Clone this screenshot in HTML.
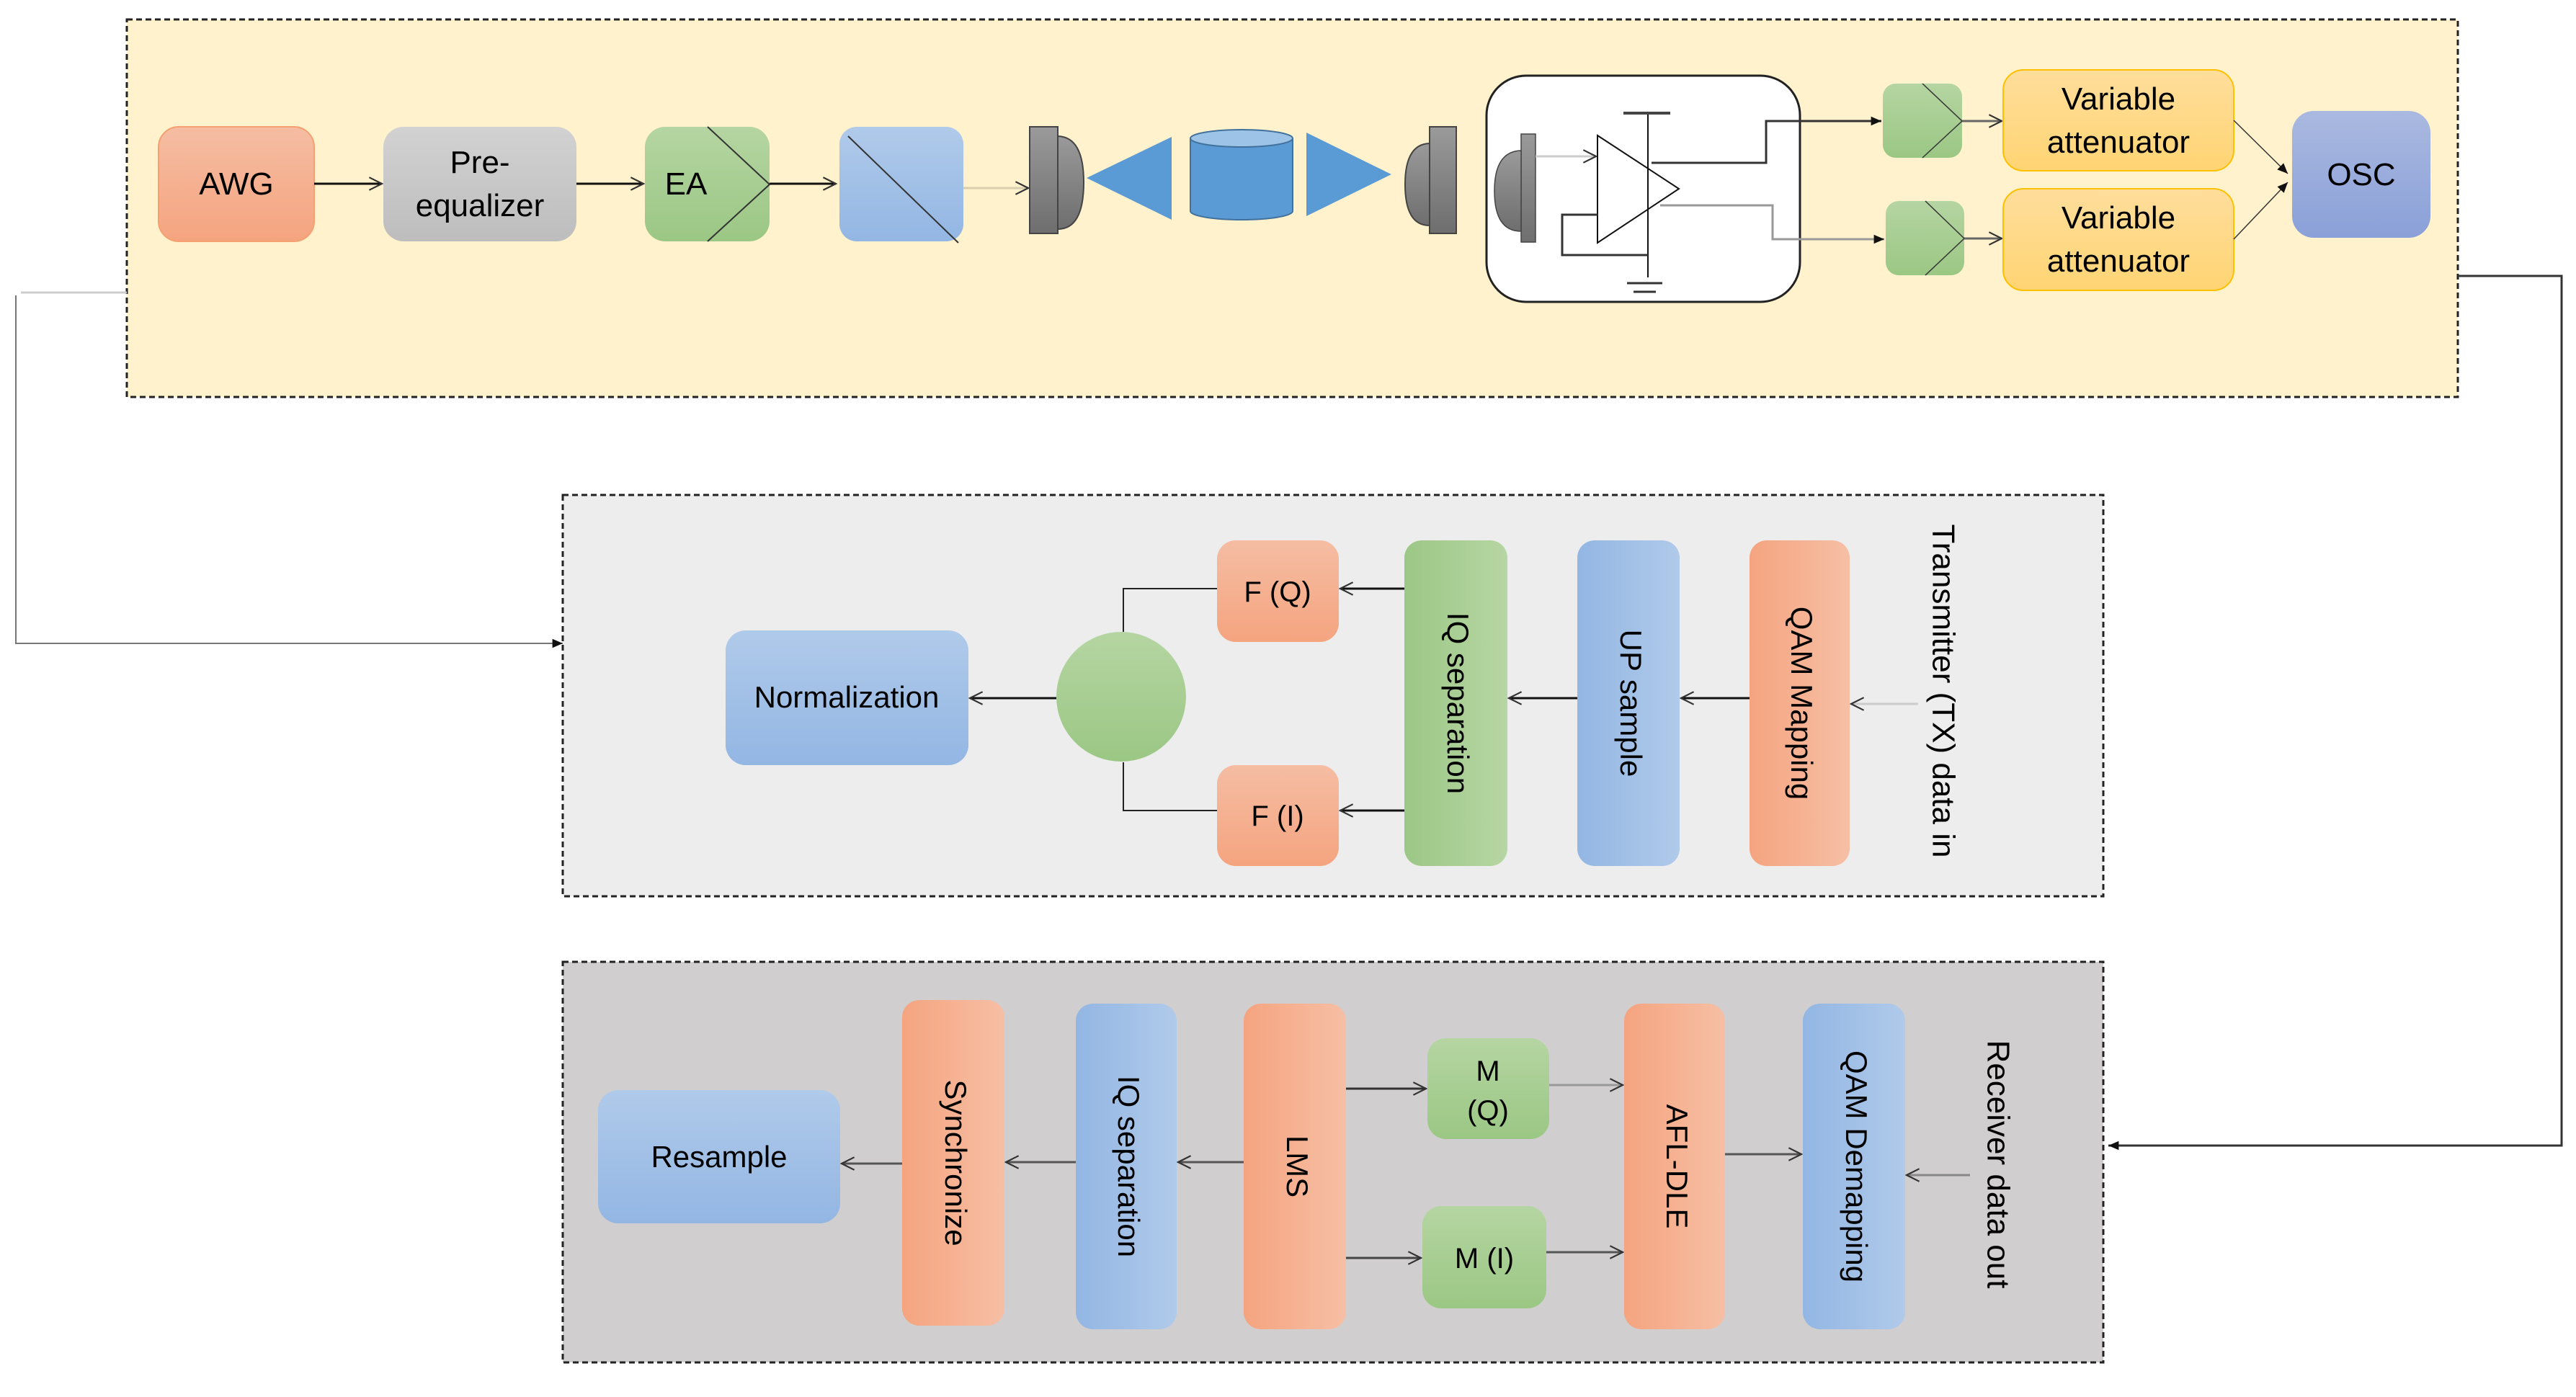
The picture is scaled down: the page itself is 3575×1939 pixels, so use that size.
<!DOCTYPE html>
<html><head><meta charset="utf-8"><style>html,body{margin:0;padding:0;background:#fff}svg{display:block}</style></head><body>
<svg width="3575" height="1939" viewBox="0 0 3575 1939" xmlns="http://www.w3.org/2000/svg" font-family="Liberation Sans, sans-serif">
<defs>
<linearGradient id="gOr" x1="0" y1="0" x2="0" y2="1"><stop offset="0" stop-color="#F5BDA3"/><stop offset="1" stop-color="#F5A47F"/></linearGradient>
<linearGradient id="gOrH" x1="0" y1="0" x2="1" y2="0"><stop offset="0" stop-color="#F5A47F"/><stop offset="1" stop-color="#F6BFA5"/></linearGradient>
<linearGradient id="gGr" x1="0" y1="0" x2="0" y2="1"><stop offset="0" stop-color="#D2D2D2"/><stop offset="1" stop-color="#BDBDBD"/></linearGradient>
<linearGradient id="gGn" x1="0" y1="0" x2="0" y2="1"><stop offset="0" stop-color="#B5D5A2"/><stop offset="1" stop-color="#9BC784"/></linearGradient>
<linearGradient id="gGnH" x1="0" y1="0" x2="1" y2="0"><stop offset="0" stop-color="#9CC786"/><stop offset="1" stop-color="#B6D6A3"/></linearGradient>
<linearGradient id="gBl" x1="0" y1="0" x2="0" y2="1"><stop offset="0" stop-color="#B0CAEA"/><stop offset="1" stop-color="#93B6E3"/></linearGradient>
<linearGradient id="gBlH" x1="0" y1="0" x2="1" y2="0"><stop offset="0" stop-color="#93B6E3"/><stop offset="1" stop-color="#B0CAEA"/></linearGradient>
<linearGradient id="gYe" x1="0" y1="0" x2="0" y2="1"><stop offset="0" stop-color="#FFDE9C"/><stop offset="1" stop-color="#FFD473"/></linearGradient>
<linearGradient id="gOs" x1="0" y1="0" x2="0" y2="1"><stop offset="0" stop-color="#AAB9E0"/><stop offset="1" stop-color="#8AA0D8"/></linearGradient>
<linearGradient id="gPl" x1="0" y1="0" x2="0" y2="1"><stop offset="0" stop-color="#9A9A9A"/><stop offset="1" stop-color="#6E6E6E"/></linearGradient>
<marker id="ar" viewBox="0 0 20 20" refX="18" refY="10" markerWidth="22" markerHeight="22" markerUnits="userSpaceOnUse" orient="auto"><path d="M2,2 L18,10 L2,18" fill="none" stroke="#333" stroke-width="2"/></marker>
<marker id="af" viewBox="0 0 20 20" refX="18" refY="10" markerWidth="18" markerHeight="18" markerUnits="userSpaceOnUse" orient="auto"><path d="M2,3 L18,10 L2,17 Z" fill="#111"/></marker>
</defs>

<!-- panels -->
<rect x="176" y="27" width="3235" height="524" fill="#FFF2CC" stroke="#222" stroke-width="3" stroke-dasharray="8,5"/>
<rect x="781" y="687" width="2138" height="557" fill="#EDEDED" stroke="#222" stroke-width="3" stroke-dasharray="8,5"/>
<rect x="781" y="1335" width="2138" height="556" fill="#D0CECE" stroke="#222" stroke-width="3" stroke-dasharray="8,5"/>

<!-- feedback lines -->
<polyline points="176,406 29,406" fill="none" stroke="#ccc" stroke-width="3"/>
<polyline points="22,410 22,893 781,893" fill="none" stroke="#777" stroke-width="2" marker-end="url(#af)"/>
<polyline points="3411,383 3555,383 3555,1590 2926,1590" fill="none" stroke="#333" stroke-width="3" marker-end="url(#af)"/>

<!-- top row -->
<rect x="220" y="176" width="216" height="159" rx="28" fill="url(#gOr)" stroke="#F4A070" stroke-width="2"/>
<text x="328" y="270" font-size="44" text-anchor="middle">AWG</text>
<rect x="532" y="176" width="268" height="159" rx="28" fill="url(#gGr)"/>
<text x="666" y="240" font-size="44" text-anchor="middle">Pre-</text>
<text x="666" y="300" font-size="44" text-anchor="middle">equalizer</text>
<rect x="895" y="176" width="173" height="159" rx="28" fill="url(#gGn)"/>
<polyline points="982,176 1068,256 982,335" fill="none" stroke="#333" stroke-width="2"/>
<text x="952" y="270" font-size="44" text-anchor="middle">EA</text>
<rect x="1165" y="176" width="172" height="159" rx="24" fill="url(#gBl)"/>
<line x1="1177" y1="189" x2="1330" y2="337" stroke="#333" stroke-width="2"/>
<line x1="436" y1="255" x2="530" y2="255" stroke="#111" stroke-width="3" marker-end="url(#ar)"/>
<line x1="800" y1="255" x2="893" y2="255" stroke="#111" stroke-width="3" marker-end="url(#ar)"/>
<line x1="1068" y1="255" x2="1160" y2="255" stroke="#111" stroke-width="3" marker-end="url(#ar)"/>
<line x1="1337" y1="261" x2="1427" y2="261" stroke="#D8CFAE" stroke-width="3" marker-end="url(#ar)"/>

<rect x="1429" y="176" width="39" height="148" fill="url(#gPl)" stroke="#444" stroke-width="2"/>
<path d="M1468,189 Q1504,190 1504,253 Q1504,318 1468,318 Z" fill="url(#gPl)" stroke="#444" stroke-width="2"/>
<polygon points="1508,247 1626,190 1626,305" fill="#5B9BD5"/>
<path d="M1652,192 L1652,293 A71,12 0 0 0 1794,293 L1794,192" fill="#5B9BD5" stroke="#41719C" stroke-width="2"/>
<ellipse cx="1723" cy="192" rx="71" ry="12" fill="#9DC3E6" stroke="#41719C" stroke-width="2"/>
<polygon points="1813,184 1931,242 1813,300" fill="#5B9BD5"/>
<path d="M1984,199 Q1950,200 1950,256 Q1950,313 1984,313 Z" fill="url(#gPl)" stroke="#444" stroke-width="2"/>
<rect x="1984" y="176" width="37" height="148" fill="url(#gPl)" stroke="#444" stroke-width="2"/>

<!-- receiver module -->
<rect x="2063" y="105" width="435" height="314" rx="55" fill="#fff" stroke="#222" stroke-width="3"/>
<rect x="2111" y="186" width="20" height="150" fill="url(#gPl)" stroke="#444" stroke-width="1.5"/>
<path d="M2111,209 Q2074,210 2074,265 Q2074,321 2111,321 Z" fill="url(#gPl)" stroke="#444" stroke-width="1.5"/>
<line x1="2131" y1="217" x2="2215" y2="217" stroke="#ccc" stroke-width="3" marker-end="url(#ar)"/>
<polygon points="2217,188 2330,262 2217,337" fill="#fff" stroke="#111" stroke-width="2"/>
<line x1="2287" y1="157" x2="2287" y2="385" stroke="#111" stroke-width="2"/>
<line x1="2253" y1="157" x2="2318" y2="157" stroke="#444" stroke-width="4"/>
<line x1="2258" y1="393" x2="2307" y2="393" stroke="#333" stroke-width="3"/>
<line x1="2267" y1="405" x2="2298" y2="405" stroke="#333" stroke-width="3"/>
<polyline points="2292,226 2451,226 2451,168 2611,168" fill="none" stroke="#333" stroke-width="3" marker-end="url(#af)"/>
<polyline points="2304,285 2460,285 2460,332 2615,332" fill="none" stroke="#999" stroke-width="3" marker-end="url(#af)"/>
<polyline points="2217,298 2168,298 2168,354 2287,354" fill="none" stroke="#333" stroke-width="3"/>

<rect x="2613" y="116" width="110" height="103" rx="18" fill="url(#gGn)"/>
<polyline points="2668,116 2723,168 2668,219" fill="none" stroke="#333" stroke-width="1.5"/>
<rect x="2617" y="279" width="109" height="103" rx="18" fill="url(#gGn)"/>
<polyline points="2672,279 2726,331 2672,382" fill="none" stroke="#333" stroke-width="1.5"/>
<line x1="2723" y1="168" x2="2778" y2="168" stroke="#666" stroke-width="3" marker-end="url(#ar)"/>
<line x1="2726" y1="331" x2="2778" y2="331" stroke="#666" stroke-width="3" marker-end="url(#ar)"/>
<rect x="2780" y="97" width="320" height="140" rx="28" fill="url(#gYe)" stroke="#FFC000" stroke-width="2"/>
<text x="2940" y="152" font-size="44" text-anchor="middle">Variable</text>
<text x="2940" y="212" font-size="44" text-anchor="middle">attenuator</text>
<rect x="2780" y="262" width="320" height="141" rx="28" fill="url(#gYe)" stroke="#FFC000" stroke-width="2"/>
<text x="2940" y="317" font-size="44" text-anchor="middle">Variable</text>
<text x="2940" y="377" font-size="44" text-anchor="middle">attenuator</text>
<line x1="3100" y1="167" x2="3175" y2="241" stroke="#333" stroke-width="1.5" marker-end="url(#af)"/>
<line x1="3100" y1="332" x2="3175" y2="253" stroke="#333" stroke-width="1.5" marker-end="url(#af)"/>
<rect x="3181" y="154" width="192" height="176" rx="30" fill="url(#gOs)"/>
<text x="3277" y="257" font-size="44" text-anchor="middle">OSC</text>

<!-- middle: TX -->
<rect x="1007" y="875" width="337" height="187" rx="28" fill="url(#gBl)"/>
<text x="1175" y="982" font-size="42" text-anchor="middle">Normalization</text>
<circle cx="1556" cy="967" r="90" fill="url(#gGn)"/>
<polyline points="1559,877 1559,817 1689,817" fill="none" stroke="#222" stroke-width="2"/>
<polyline points="1559,1058 1559,1125 1689,1125" fill="none" stroke="#222" stroke-width="2"/>
<line x1="1466" y1="969" x2="1346" y2="969" stroke="#111" stroke-width="3" marker-end="url(#ar)"/>
<rect x="1689" y="750" width="169" height="141" rx="26" fill="url(#gOr)"/>
<text x="1773" y="835" font-size="40" text-anchor="middle">F (Q)</text>
<rect x="1689" y="1062" width="169" height="140" rx="26" fill="url(#gOr)"/>
<text x="1773" y="1146" font-size="40" text-anchor="middle">F (I)</text>
<line x1="1949" y1="817" x2="1860" y2="817" stroke="#111" stroke-width="3" marker-end="url(#ar)"/>
<line x1="1949" y1="1125" x2="1860" y2="1125" stroke="#111" stroke-width="3" marker-end="url(#ar)"/>
<rect x="1949" y="750" width="143" height="452" rx="24" fill="url(#gGnH)"/>
<text transform="translate(2020,976) rotate(90)" font-size="42" text-anchor="middle" dominant-baseline="middle">IQ separation</text>
<rect x="2189" y="750" width="142" height="452" rx="24" fill="url(#gBlH)"/>
<text transform="translate(2260,976) rotate(90)" font-size="42" text-anchor="middle" dominant-baseline="middle">UP sample</text>
<rect x="2428" y="750" width="139" height="452" rx="24" fill="url(#gOrH)"/>
<text transform="translate(2497,976) rotate(90)" font-size="42" text-anchor="middle" dominant-baseline="middle">QAM Mapping</text>
<line x1="2189" y1="969" x2="2094" y2="969" stroke="#111" stroke-width="3" marker-end="url(#ar)"/>
<line x1="2428" y1="969" x2="2333" y2="969" stroke="#111" stroke-width="3" marker-end="url(#ar)"/>
<line x1="2662" y1="977" x2="2569" y2="977" stroke="#ccc" stroke-width="3" marker-end="url(#ar)"/>
<text transform="translate(2694,959) rotate(90)" font-size="44" text-anchor="middle" dominant-baseline="middle">Transmitter (TX) data in</text>

<!-- bottom: RX -->
<rect x="830" y="1513" width="336" height="185" rx="28" fill="url(#gBl)"/>
<text x="998" y="1620" font-size="42" text-anchor="middle">Resample</text>
<rect x="1252" y="1388" width="142" height="452" rx="24" fill="url(#gOrH)"/>
<text transform="translate(1323,1614) rotate(90)" font-size="42" text-anchor="middle" dominant-baseline="middle">Synchronize</text>
<rect x="1493" y="1393" width="140" height="452" rx="24" fill="url(#gBlH)"/>
<text transform="translate(1563,1619) rotate(90)" font-size="42" text-anchor="middle" dominant-baseline="middle">IQ separation</text>
<rect x="1726" y="1393" width="142" height="452" rx="24" fill="url(#gOrH)"/>
<text transform="translate(1797,1619) rotate(90)" font-size="42" text-anchor="middle" dominant-baseline="middle">LMS</text>
<rect x="1981" y="1441" width="169" height="140" rx="26" fill="url(#gGn)"/>
<text x="2065" y="1500" font-size="40" text-anchor="middle">M</text>
<text x="2065" y="1555" font-size="40" text-anchor="middle">(Q)</text>
<rect x="1974" y="1674" width="172" height="142" rx="26" fill="url(#gGn)"/>
<text x="2060" y="1760" font-size="40" text-anchor="middle">M (I)</text>
<rect x="2254" y="1393" width="140" height="452" rx="24" fill="url(#gOrH)"/>
<text transform="translate(2324,1619) rotate(90)" font-size="42" text-anchor="middle" dominant-baseline="middle">AFL-DLE</text>
<rect x="2502" y="1393" width="142" height="452" rx="24" fill="url(#gBlH)"/>
<text transform="translate(2573,1619) rotate(90)" font-size="42" text-anchor="middle" dominant-baseline="middle">QAM Demapping</text>
<text transform="translate(2770,1616) rotate(90)" font-size="44" text-anchor="middle" dominant-baseline="middle">Receiver data out</text>
<line x1="1252" y1="1615" x2="1168" y2="1615" stroke="#555" stroke-width="3" marker-end="url(#ar)"/>
<line x1="1493" y1="1613" x2="1396" y2="1613" stroke="#555" stroke-width="3" marker-end="url(#ar)"/>
<line x1="1726" y1="1613" x2="1635" y2="1613" stroke="#555" stroke-width="3" marker-end="url(#ar)"/>
<line x1="1868" y1="1511" x2="1979" y2="1511" stroke="#333" stroke-width="3" marker-end="url(#ar)"/>
<line x1="2150" y1="1506" x2="2252" y2="1506" stroke="#999" stroke-width="3" marker-end="url(#ar)"/>
<line x1="1868" y1="1746" x2="1972" y2="1746" stroke="#444" stroke-width="3" marker-end="url(#ar)"/>
<line x1="2146" y1="1738" x2="2252" y2="1738" stroke="#555" stroke-width="3" marker-end="url(#ar)"/>
<line x1="2394" y1="1602" x2="2500" y2="1602" stroke="#555" stroke-width="3" marker-end="url(#ar)"/>
<line x1="2734" y1="1631" x2="2646" y2="1631" stroke="#888" stroke-width="3" marker-end="url(#ar)"/>
</svg>
</body></html>
